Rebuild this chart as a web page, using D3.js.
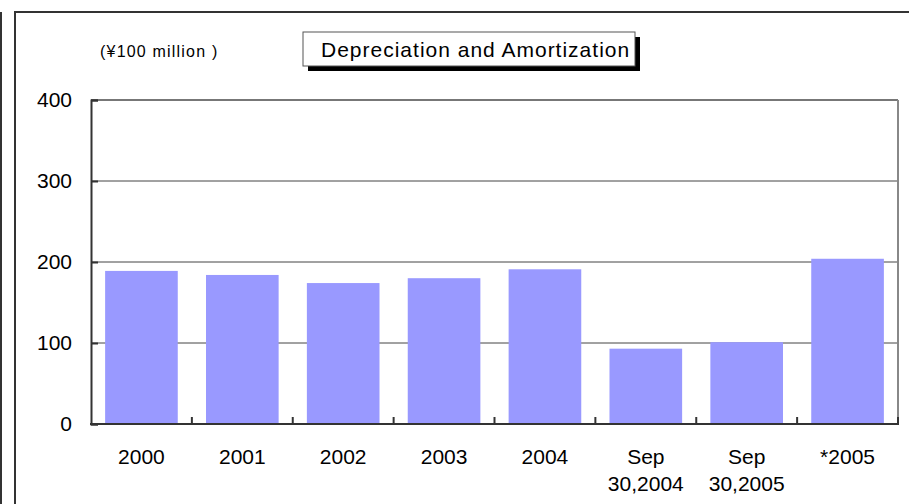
<!DOCTYPE html>
<html><head><meta charset="utf-8">
<script src="https://cdn.jsdelivr.net/npm/d3@7"></script>
<style>body{margin:0;background:#fff}svg{display:block}text{font-family:"Liberation Sans",Arial,sans-serif;fill:#000}</style>
</head><body>
<script>
const categories = [["2000"],["2001"],["2002"],["2003"],["2004"],["Sep","30,2004"],["Sep","30,2005"],["*2005"]];
const values = [189, 184, 174, 180, 191, 93, 101, 204];
const yTicks = [0, 100, 200, 300, 400];
const title = "Depreciation and Amortization";
const unitLabel = "(¥100 million )";

const W = 909, H = 504;
const FONT = '"Liberation Sans",Arial,sans-serif';
const svg = d3.select("body").append("svg").attr("width", W).attr("height", H);

// outer frame
svg.append("line").attr("x1",1).attr("x2",1).attr("y1",12).attr("y2",H).attr("stroke","#333").attr("stroke-width",2);
svg.append("line").attr("x1",15).attr("x2",15).attr("y1",11).attr("y2",H).attr("stroke","#333").attr("stroke-width",2);
svg.append("line").attr("x1",14).attr("x2",W).attr("y1",12).attr("y2",12).attr("stroke","#333").attr("stroke-width",2);

const L = 91, R = 898, T = 100, B = 424;
const x = d3.scaleBand().domain(d3.range(categories.length)).range([L, R]).paddingInner(0.28).paddingOuter(0.14);
const y = d3.scaleLinear().domain([0, 400]).range([B, T]);

// gridlines
svg.append("g").selectAll("line").data(yTicks.filter(d => d > 0 && d < 400)).join("line")
  .attr("x1", L).attr("x2", R).attr("y1", d => y(d)).attr("y2", d => y(d))
  .attr("stroke", "#444").attr("stroke-width", 1);

// plot frame top & right
svg.append("line").attr("x1", L).attr("x2", R).attr("y1", T).attr("y2", T).attr("stroke", "#777").attr("stroke-width", 2);
svg.append("line").attr("x1", R).attr("x2", R).attr("y1", T).attr("y2", B).attr("stroke", "#888").attr("stroke-width", 2);

// bars
svg.append("g").selectAll("rect").data(values).join("rect")
  .attr("x", (d, i) => x(i)).attr("width", x.bandwidth())
  .attr("y", d => y(d)).attr("height", d => B - y(d))
  .attr("fill", "#9999ff");

// y axis
const yAxis = d3.axisLeft(y).tickValues(yTicks).tickSize(-7).tickPadding(19).tickFormat(d3.format("d"));
const gy = svg.append("g").attr("transform", `translate(${L},0)`).call(yAxis);
gy.select(".domain").attr("stroke", "#333").attr("stroke-width", 2);
gy.selectAll(".tick line").attr("stroke", "#333").attr("stroke-width", 2);
gy.selectAll(".tick text").attr("font-size", 21).attr("font-family", FONT).attr("fill", "#000");

// x axis
const step = x.step();
const tickPos = d3.range(categories.length + 1).map(i => L + i * step);
svg.append("line").attr("x1", L - 1).attr("x2", R + 1).attr("y1", B).attr("y2", B).attr("stroke", "#333").attr("stroke-width", 2);
svg.append("g").selectAll("line").data(tickPos.slice(1)).join("line")
  .attr("x1", d => d).attr("x2", d => d).attr("y1", B).attr("y2", B - 7)
  .attr("stroke", "#333").attr("stroke-width", 2);

const xl = svg.append("g").selectAll("text").data(categories).join("text")
  .attr("x", (d, i) => x(i) + x.bandwidth() / 2).attr("y", 464)
  .attr("text-anchor", "middle").attr("font-size", 21);
xl.selectAll("tspan").data(d => d).join("tspan")
  .attr("x", function() { return d3.select(this.parentNode).attr("x"); })
  .attr("dy", (d, i) => i === 0 ? 0 : 27).text(d => d);

// unit label
svg.append("text").attr("x", 100).attr("y", 57).attr("font-size", 16).attr("letter-spacing", 1.2).text(unitLabel);

// title box with shadow
const bx = 303, by = 32, bw = 332, bh = 34;
svg.append("rect").attr("x", bx + 5).attr("y", by + 5).attr("width", bw).attr("height", bh).attr("fill", "#000");
svg.append("rect").attr("x", bx).attr("y", by).attr("width", bw).attr("height", bh).attr("fill", "#fff").attr("stroke", "#555").attr("stroke-width", 1);
svg.append("text").attr("x", 321).attr("y", 57).attr("font-size", 21).attr("letter-spacing", 1).text(title);
</script>
</body></html>
